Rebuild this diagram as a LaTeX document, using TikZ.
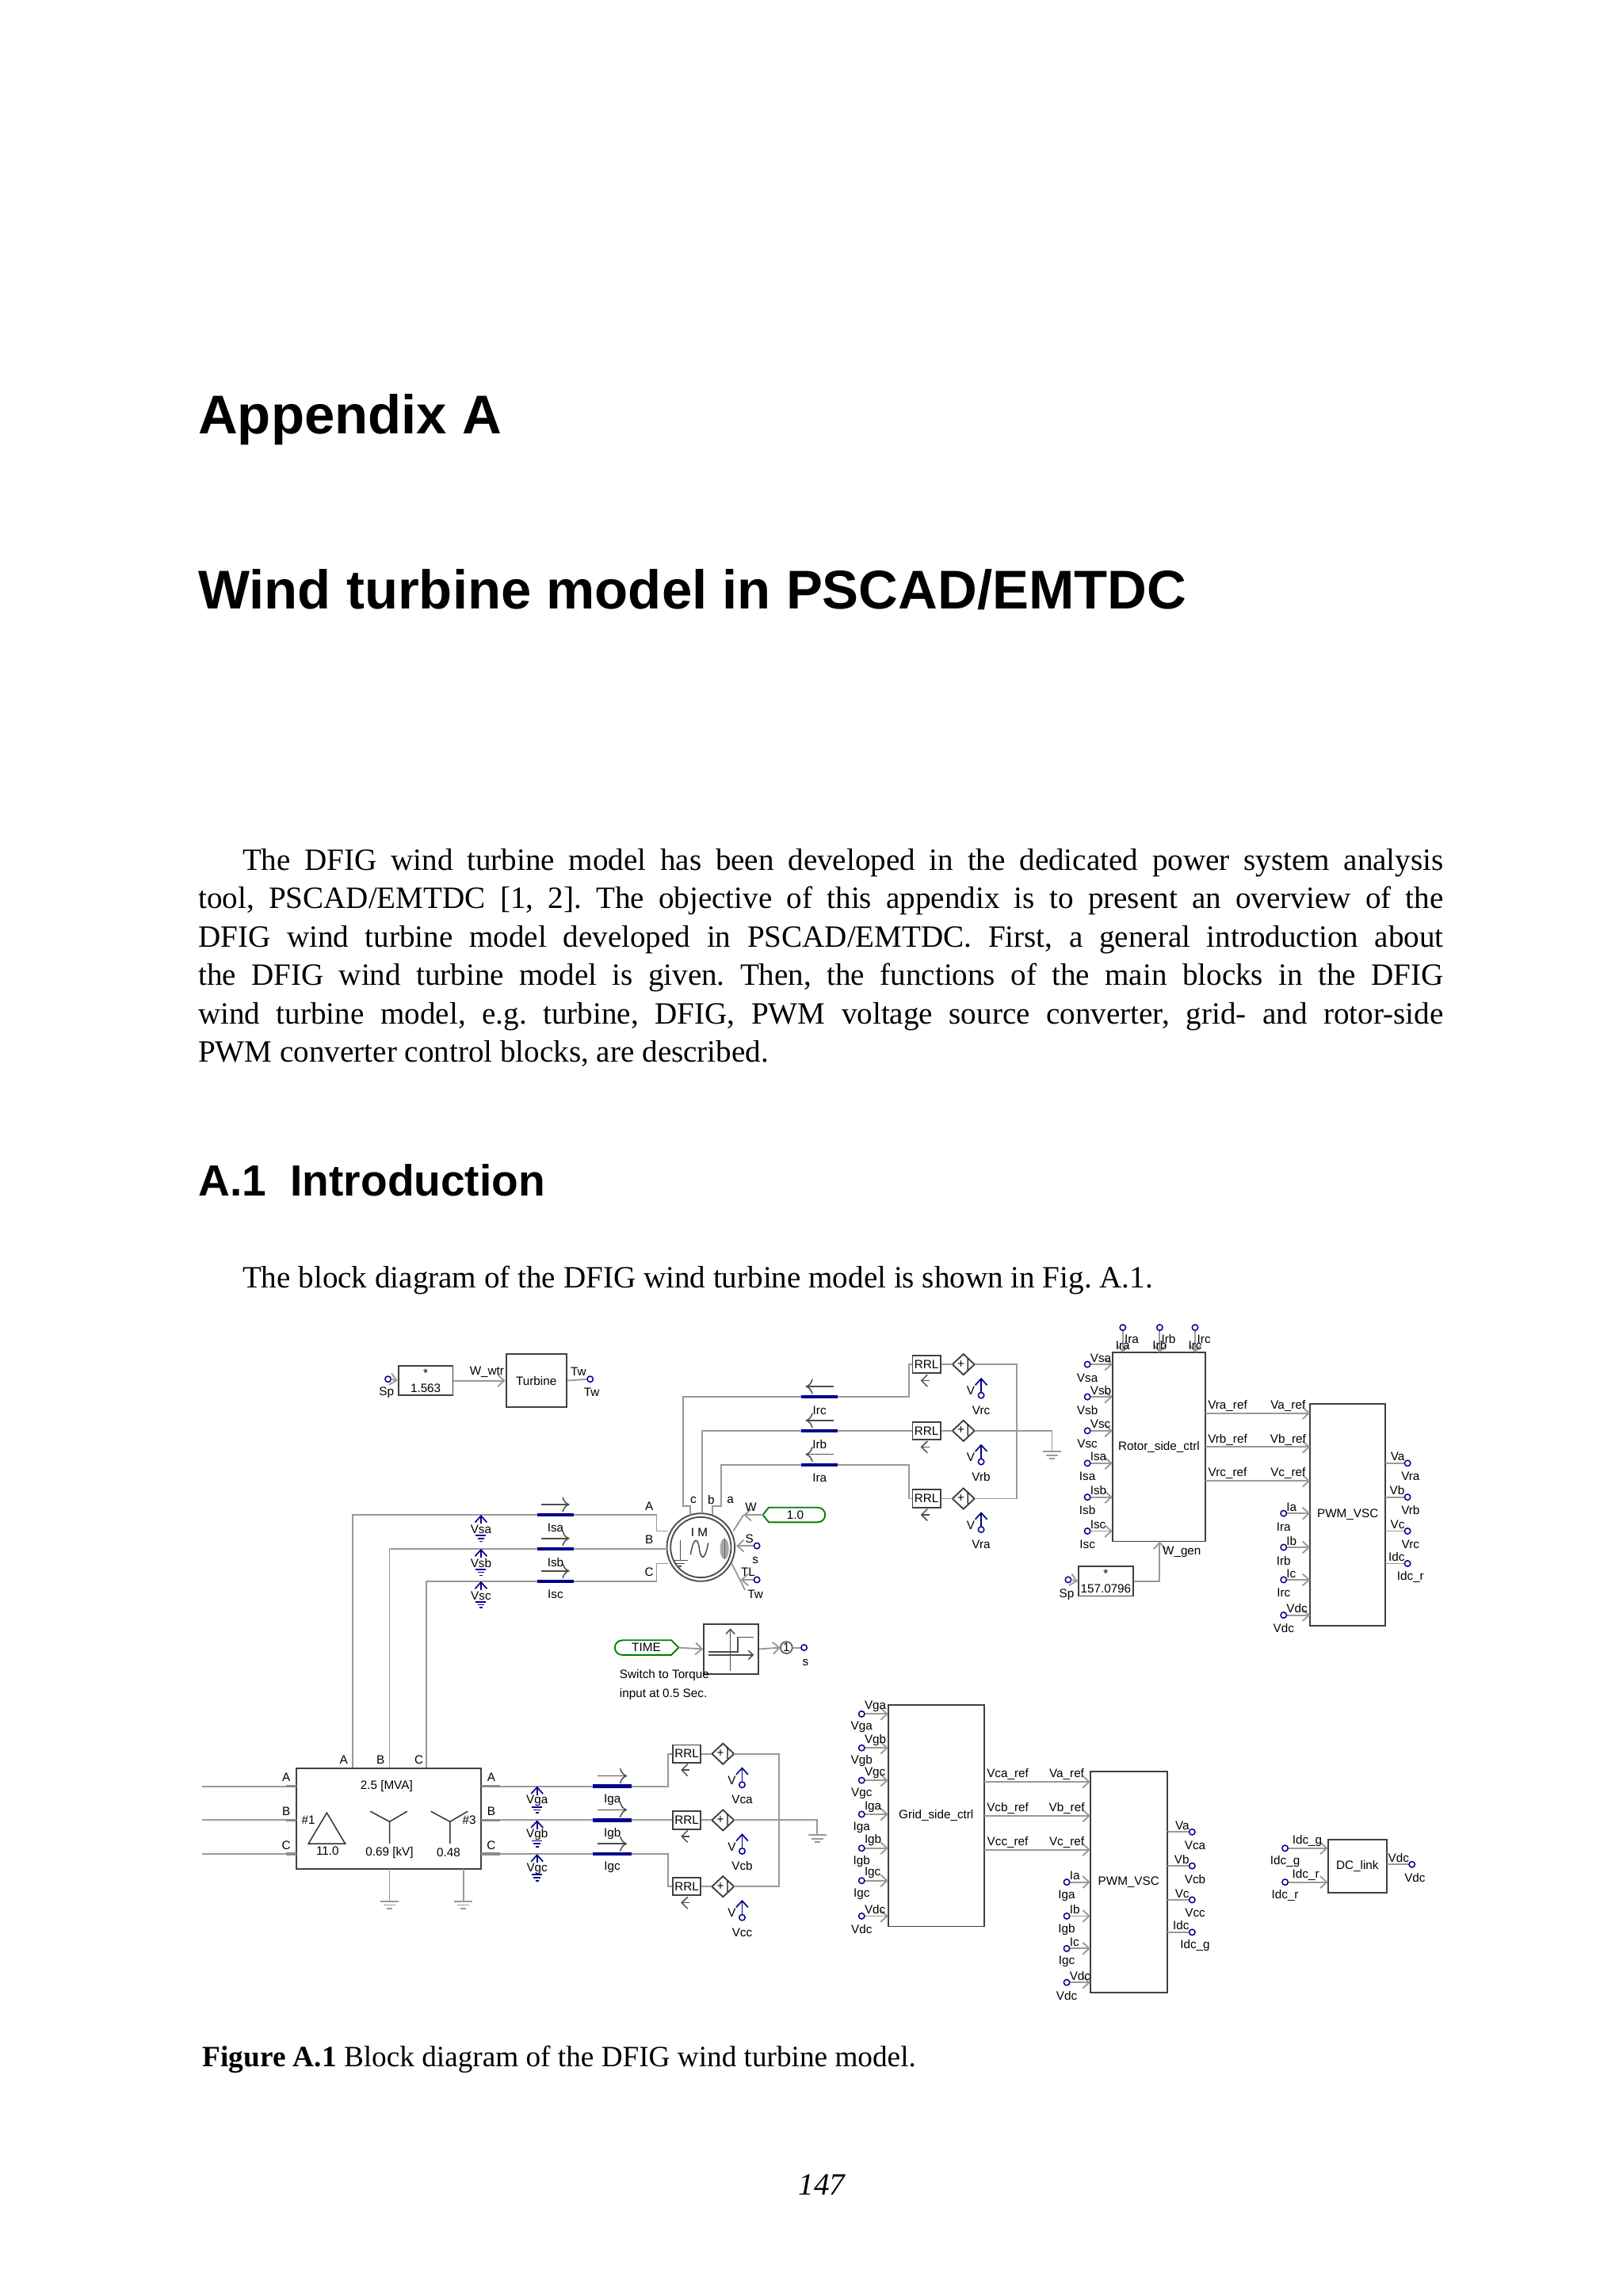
\documentclass[tikz,border=0pt]{standalone}
\usepackage{fontspec}
\setmainfont{Liberation Serif}
\newfontfamily\hdfont{Liberation Sans}
\newfontfamily\df{Liberation Sans}
\usetikzlibrary{arrows.meta}
\frenchspacing
\tikzset{
 wire/.style={draw=black!40,line width=0.5pt},
 bx/.style={draw=black!75,line width=0.5pt},
 term/.style={draw=blue!55!black,line width=0.4pt},
 lbl/.style={font=\df\fontsize{4.1}{4.6}\selectfont,inner sep=0.3pt},
 tip/.style={-{Straight Barb[length=2.2pt,width=4pt]}},
 meas/.style={draw=blue!55!black,line width=0.45pt},
}
\newcommand\inp[5]{%
 \draw[wire,tip] ({#1+2},#3) -- (#2,#3);
 \draw[term] (#1,#3) circle[radius=2];
 \node[lbl,anchor=south west] at ({#1+1},{#3-0.5}) {#4};
 \node[lbl] at ({#1},{#3+9}) {#5};}
\newcommand\outp[5]{%
 \draw[wire] (#1,#3) -- ({#2-2},#3);
 \draw[term] (#2,#3) circle[radius=2];
 \node[lbl,anchor=south east] at ({#2-1},{#3-0.5}) {#4};
 \node[lbl] at ({#2+2},{#3+9}) {#5};}
\newcommand\vmtr[3]{%
 \draw[meas,tip] (#1,{#2+6}) -- (#1,#2);
 \node[lbl] at (#1,{#2+10}) {#3};
 \draw[meas] ({#1-3.5},{#2+14}) -- ({#1+3.5},{#2+14});
 \draw[meas] ({#1-2.3},{#2+16}) -- ({#1+2.3},{#2+16});
 \draw[meas] ({#1-1},{#2+18}) -- ({#1+1},{#2+18});}
\newcommand\imtr[5]{% x1 x2 y label direction
 \draw[blue!55!black,line width=1.2pt] (#1,#3) -- (#2,#3);
 \draw[black!70,line width=0.4pt,#5] ({#1+3},{#3-7}) -- ({#2-3},{#3-7});
 \node[lbl] at ({(#1+#2)/2},{#3+9}) {#4};}
\newcommand\gnd[2]{%
 \draw[wire] ({#1-6},#2) -- ({#1+6},#2);
 \draw[wire] ({#1-4},{#2+2.5}) -- ({#1+4},{#2+2.5});
 \draw[wire] ({#1-1.8},{#2+5}) -- ({#1+1.8},{#2+5});}
\newcommand\rrlb[3]{%
 \node[bx,lbl,minimum width=9.5pt,minimum height=6pt,inner sep=0pt,fill=white] (#1) at (#2,#3) {RRL};
 \draw[black!70,line width=0.4pt,-{Straight Barb[length=2pt,width=4pt]}] ({#2+2},{#3+11}) -- ({#2-4},{#3+11});}
\newcommand\srcd[2]{%
 \draw[bx] ({#1-7.5},#2) -- (#1,{#2-7}) -- ({#1+7.5},#2) -- (#1,{#2+7}) -- cycle;
 \node[lbl] at (#1,#2) {+\,|};}
\newcommand\vlt[3]{%
 \draw[meas,tip] (#1,{#2+19}) -- (#1,{#2+9});
 \draw[term] (#1,{#2+21}) circle[radius=2];
 \node[lbl] at ({#1-7},{#2+18}) {V};
 \node[lbl] at (#1,{#2+31}) {#3};}
\begin{document}
\begin{tikzpicture}[x=0.5pt,y=-0.5pt]
\useasboundingbox (0,0) rectangle (1100,1556.6);
\fill[white] (0,0) rectangle (1100,1556.6);
% ---------- page text
\node[anchor=base west,inner sep=0,font=\hdfont\bfseries\fontsize{18.5}{22}\selectfont] (t1) at (134,294) {Appendix A};
\node[anchor=base west,inner sep=0,font=\hdfont\bfseries\fontsize{18.5}{22}\selectfont] (t2) at (134,413) {Wind turbine model in PSCAD/EMTDC};
\node[anchor=north west,inner sep=0,text width=422pt,align=justify,font=\fontsize{10.5}{13}\selectfont] (par) at (134,575)
{\hspace*{15pt}The DFIG wind turbine model has been developed in the dedicated power system analysis\linebreak
tool, PSCAD/EMTDC [1, 2]. The objective of this appendix is to present an overview of the\linebreak
DFIG wind turbine model developed in PSCAD/EMTDC. First, a general introduction about\linebreak
the DFIG wind turbine model is given. Then, the functions of the main blocks in the DFIG\linebreak
wind turbine model, e.g. turbine, DFIG, PWM voltage source converter, grid- and rotor-side\linebreak
PWM converter control blocks, are described.};
\node[anchor=base west,inner sep=0,font=\hdfont\bfseries\fontsize{14.8}{18}\selectfont] (t3) at (134,811) {A.1\ \ Introduction};
\node[anchor=base west,inner sep=0,font=\fontsize{10.5}{13}\selectfont] (p2) at (164,873) {The block diagram of the DFIG wind turbine model is shown in Fig. A.1.};
\node[anchor=base west,inner sep=0,font=\fontsize{10}{12}\selectfont] (cap) at (137,1401) {\textbf{Figure A.1} Block diagram of the DFIG wind turbine model.};
\node[anchor=base,inner sep=0,font=\itshape\fontsize{10.5}{13}\selectfont] (pg) at (557,1488) {147};

\begin{scope}[xshift=3pt,yshift=3pt]
\begin{scope}[shift={(-12,0)}]
\end{scope}
\end{scope}
\begin{scope}[shift={(-6,-6)}]
% ---------- turbine
\draw[term] (269,941) circle[radius=2];
\node[lbl] at (268,950) {Sp};
\node[bx,minimum width=18.5pt,minimum height=10pt,inner sep=0] (mul1) at (294.5,942) {};
\node[lbl] at (294.5,937) {*};
\node[lbl] at (294.5,947) {1.563};
\draw[wire,tip] (271,941) -- (mul1.west);
\node[bx,lbl,minimum width=20.5pt,minimum height=18pt,inner sep=0] (turb) at (369.5,942) {Turbine};
\draw[wire,tip] (mul1.east) -- (turb.west);
\node[lbl] at (336,936) {W\_wtr};
\draw[wire] (turb.east) -- (404,941);
\draw[term] (406,941) circle[radius=2];
\node[lbl] at (398,936) {Tw};
\node[lbl] at (407,950) {Tw};

% ---------- induction machine
\coordinate (M) at (481,1055);
\draw[black!70,line width=0.5pt] (M) circle[radius=23];
\draw[black!70,line width=0.5pt] (M) circle[radius=20.5];
\node[lbl] (im) at (480,1045) {I M};
\draw[black!70,line width=0.4pt] (474,1060) .. controls (476,1048) and (479,1048) .. (480,1056) .. controls (481,1064) and (484,1064) .. (486,1052);
\draw[black!70,line width=0.4pt] (467,1050) -- (467,1064) (462,1064) -- (472,1064) (464,1066) -- (470,1066) (466,1068) -- (468,1068);
\fill[black!35] (497,1056) ellipse[x radius=3,y radius=7];
\draw[black!60,line width=0.3pt] (497,1049) -- (497,1063);
\draw[wire] (245,1205) -- (245,1033) -- (451,1033) -- (451,1044) -- (459,1044);
\draw[wire] (270,1205) -- (270,1056) -- (458,1056);
\draw[wire] (295,1205) -- (295,1078) -- (451,1078) -- (451,1066) -- (459,1066);
\node[lbl] at (446,1027) {A};
\node[lbl] at (446,1050) {B};
\node[lbl] at (446,1072) {C};
\vmtr{332}{1033}{Vsa}
\vmtr{332}{1056}{Vsb}
\vmtr{332}{1078}{Vsc}
\imtr{370}{395}{1033}{Isa}{->}
\imtr{370}{395}{1056}{Isb}{->}
\imtr{370}{395}{1078}{Isc}{->}
\draw[wire] (474,1033) -- (474,1027) -- (469,1027) -- (469,953) -- (622,953) -- (622,931) -- (624.5,931);
\draw[wire] (482,1032) -- (482,976) -- (624.5,976);
\draw[wire] (489,1033) -- (489,1027) -- (495,1027) -- (495,999) -- (622,999) -- (622,1022) -- (624.5,1022);
\node[lbl] at (476,1023) {c};
\node[lbl] at (488,1023) {b};
\node[lbl] at (501,1023) {a};
\imtr{549}{574}{953}{Irc}{<-}
\imtr{549}{574}{976}{Irb}{<-}
\imtr{549}{574}{999}{Ira}{<-}
\draw[green!50!black,line width=0.5pt] (527,1028) -- (560,1028) .. controls (567,1028) and (567,1038) .. (560,1038) -- (527,1038) -- (523,1033) -- cycle;
\node[lbl] (c10) at (545,1033) {1.0};
\draw[wire,tip] (523,1033) -- (510,1033);
\draw[wire] (510,1033) -- (503,1044);
\node[lbl] at (515,1028) {W};
\draw[wire,tip] (517,1054) -- (505,1054);
\draw[term] (519,1054) circle[radius=2];
\node[lbl] at (514,1049) {S};
\node[lbl] at (518,1064) {s};
\draw[wire] (502,1066) -- (511,1084);
\draw[wire,tip] (517,1077) -- (508,1077);
\draw[term] (519,1077) circle[radius=2];
\node[lbl] at (513,1072) {TL};
\node[lbl] at (518,1087) {Tw};
% ---------- TIME / switch
\draw[green!50!black,line width=0.5pt] (428,1118) -- (461,1118) -- (466,1123) -- (461,1128) -- (428,1128) .. controls (421,1128) and (421,1118) .. (428,1118) -- cycle;
\node[lbl] (time) at (444,1123) {TIME};
\node[bx,minimum width=18.5pt,minimum height=17pt,inner sep=0] (sw) at (501.5,1124) {};
\draw[wire,tip] (466,1123) -- (sw.west);
\draw[black!70,line width=0.4pt,-{Straight Barb[length=1.6pt,width=3pt]}] (501,1139) -- (501,1110);
\draw[black!70,line width=0.4pt,-{Straight Barb[length=1.6pt,width=3pt]}] (486,1128) -- (517,1128);
\draw[black!70,line width=0.4pt] (486,1126) -- (506,1126) -- (506,1116) -- (517,1116);
\draw[wire,tip] (sw.east) -- (535,1123);
\draw[black!70,line width=0.4pt] (539,1123) circle[radius=4];
\node[lbl] (one) at (539,1123) {1};
\draw[wire] (543,1123) -- (549,1123);
\draw[term] (551,1123) circle[radius=2];
\node[lbl] at (552,1133) {s};
\node[lbl,anchor=west,align=left] at (425,1148) {Switch to Torque\\[1.8pt] input at 0.5 Sec.};
% ---------- rotor RRL group
\rrlb{rr1}{634}{931}
\rrlb{rr2}{634}{976}
\rrlb{rr3}{634}{1022}
\srcd{659}{931}\srcd{659}{976}\srcd{659}{1022}
\draw[wire] (rr1.east) -- (651.5,931) (rr2.east) -- (651.5,976) (rr3.east) -- (651.5,1022);
\draw[wire] (666.5,931) -- (695,931) -- (695,1022) -- (666.5,1022);
\draw[wire] (666.5,976) -- (719,976) -- (719,990);
\gnd{719}{990}
\vlt{671}{931}{Vrc}
\vlt{671}{976}{Vrb}
\vlt{671}{1022}{Vra}
% ---------- rotor side control
\node[bx,lbl,minimum width=31.5pt,minimum height=64pt,inner sep=0] (rsc) at (791.5,987) {Rotor\_side\_ctrl};
\inp{743}{760}{931}{Vsa}{Vsa}
\inp{743}{760}{953}{Vsb}{Vsb}
\inp{743}{760}{976}{Vsc}{Vsc}
\inp{743}{760}{998}{Isa}{Isa}
\inp{743}{760}{1021}{Isb}{Isb}
\inp{743}{760}{1044}{Isc}{Isc}
\foreach \xx/\ll in {767/Ira,792/Irb,816/Irc}{
 \draw[wire,tip] (\xx,908) -- (\xx,923);
 \draw[term] (\xx,906) circle[radius=2];
 \node[lbl] at (\xx,918) {\ll};
 \node[lbl] at ({\xx+6},914) {\ll};}
\node[bx,minimum width=18.5pt,minimum height=10pt,inner sep=0] (mul2) at (755.5,1078) {};
\node[lbl] at (755.5,1073) {*};
\node[lbl] at (755.5,1083) {157.0796};
\draw[term] (730,1077) circle[radius=2];
\draw[wire,tip] (732,1077) -- (mul2.west);
\node[lbl] at (729,1087) {Sp};
\draw[wire,tip] (mul2.east) -- (792,1078) -- (792,1051);
\node[lbl] at (807,1058) {W\_gen};
\node[bx,lbl,minimum width=25.5pt,minimum height=75pt,inner sep=0] (pwm1) at (919.5,1033) {PWM\_VSC};
\foreach \yy/\a/\b in {964/Vra\_ref/Va\_ref,987/Vrb\_ref/Vb\_ref,1010/Vrc\_ref/Vc\_ref}{
 \draw[wire,tip] (823,\yy) -- (894,\yy);
 \node[lbl] at (838,{\yy-5}) {\a};
 \node[lbl] at (879,{\yy-5}) {\b};}
\inp{876}{894}{1032}{Ia}{Ira}
\inp{876}{894}{1055}{Ib}{Irb}
\inp{876}{894}{1077}{Ic}{Irc}
\inp{876}{894}{1101}{Vdc}{Vdc}
\outp{945}{960}{998}{Va}{Vra}
\outp{945}{960}{1021}{Vb}{Vrb}
\outp{945}{960}{1044}{Vc}{Vrc}
\outp{945}{960}{1066}{Idc}{Idc\_r}
% ---------- transformer
\node[bx,minimum width=62.5pt,minimum height=34pt,inner sep=0] (tr) at (269.5,1239) {};
\foreach \yy/\ll in {1217/A,1240/B,1263/C}{
 \draw[wire] (143,\yy) -- (207,\yy);
 \draw[black!45,line width=1pt] (200,\yy) -- (207,\yy);
 \draw[black!45,line width=1pt] (332,\yy) -- (345,\yy);
 \node[lbl] at (200,{\yy-6}) {\ll};
 \node[lbl] at (339,{\yy-6}) {\ll};}
\node[lbl] at (239,1199) {A};
\node[lbl] at (264,1199) {B};
\node[lbl] at (290,1199) {C};
\node[lbl] at (268,1217) {2.5 [MVA]};
\draw[black!80,line width=0.4pt] (215,1256) -- (227.5,1235) -- (240,1256) -- cycle;
\draw[black!80,line width=0.4pt] (257,1234) -- (270,1241) -- (282,1234) (270,1241) -- (270,1256);
\draw[black!80,line width=0.4pt] (298,1234) -- (311,1241) -- (323,1234) (311,1241) -- (311,1256);
\node[lbl] at (215,1240) {\#1};
\node[lbl] at (324,1240) {\#3};
\node[lbl] at (228,1261) {11.0};
\node[lbl] at (270,1262) {0.69 [kV]};
\node[lbl] at (310,1262) {0.48};
\draw[wire] (270,1273) -- (270,1295); \gnd{270}{1295}
\draw[wire] (320,1273) -- (320,1295); \gnd{320}{1295}
\draw[wire] (345,1217) -- (459,1217) -- (459,1195) -- (462,1195);
\draw[wire] (345,1240) -- (462,1240);
\draw[wire] (345,1263) -- (459,1263) -- (459,1285) -- (462,1285);
\vmtr{370}{1217}{Vga}
\vmtr{370}{1240}{Vgb}
\vmtr{370}{1263}{Vgc}
\imtr{408}{434}{1217}{Iga}{->}
\imtr{408}{434}{1240}{Igb}{->}
\imtr{408}{434}{1263}{Igc}{->}
\rrlb{rg1}{471.5}{1195}
\rrlb{rg2}{471.5}{1240}
\rrlb{rg3}{471.5}{1285}
\srcd{496}{1195}\srcd{496}{1240}\srcd{496}{1285}
\draw[wire] (rg1.east) -- (488.5,1195) (rg2.east) -- (488.5,1240) (rg3.east) -- (488.5,1285);
\draw[wire] (503.5,1195) -- (534,1195) -- (534,1285) -- (503.5,1285);
\draw[wire] (503.5,1240) -- (560,1240) -- (560,1250);
\gnd{560}{1250}
\vlt{509}{1195}{Vca}
\vlt{509}{1240}{Vcb}
\vlt{509}{1285}{Vcc}
% ---------- grid side control
\node[bx,lbl,minimum width=32.5pt,minimum height=75pt,inner sep=0] (gsc) at (640.5,1237) {Grid\_side\_ctrl};
\inp{590}{608}{1168}{Vga}{Vga}
\inp{590}{608}{1191}{Vgb}{Vgb}
\inp{590}{608}{1213}{Vgc}{Vgc}
\inp{590}{608}{1236}{Iga}{Iga}
\inp{590}{608}{1259}{Igb}{Igb}
\inp{590}{608}{1281}{Igc}{Igc}
\inp{590}{608}{1305}{Vdc}{Vdc}
\node[bx,lbl,minimum width=26pt,minimum height=75pt,inner sep=0] (pwm2) at (771,1282) {PWM\_VSC};
\foreach \yy/\a/\b in {1214/Vca\_ref/Va\_ref,1237/Vcb\_ref/Vb\_ref,1260/Vcc\_ref/Vc\_ref}{
 \draw[wire,tip] (673,\yy) -- (745,\yy);
 \node[lbl] at (689,{\yy-5}) {\a};
 \node[lbl] at (729,{\yy-5}) {\b};}
\inp{729}{745}{1282}{Ia}{Iga}
\inp{729}{745}{1305}{Ib}{Igb}
\inp{729}{745}{1327}{Ic}{Igc}
\inp{729}{745}{1350}{Vdc}{Vdc}
\outp{797}{814}{1248}{Va}{Vca}
\outp{797}{814}{1271}{Vb}{Vcb}
\outp{797}{814}{1294}{Vc}{Vcc}
\outp{797}{814}{1316}{Idc}{Idc\_g}
\node[bx,lbl,minimum width=20pt,minimum height=18pt,inner sep=0] (dcl) at (926,1271) {DC\_link};
\draw[wire,tip] (879,1259) -- (906,1259);
\draw[term] (877,1259) circle[radius=2];
\node[lbl] at (892,1254) {Idc\_g};
\node[lbl] at (877,1268) {Idc\_g};
\draw[wire,tip] (879,1282) -- (906,1282);
\draw[term] (877,1282) circle[radius=2];
\node[lbl] at (891,1277) {Idc\_r};
\node[lbl] at (877,1291) {Idc\_r};
\outp{946}{963}{1270}{Vdc}{Vdc}
\end{scope}
\end{tikzpicture}
\end{document}
